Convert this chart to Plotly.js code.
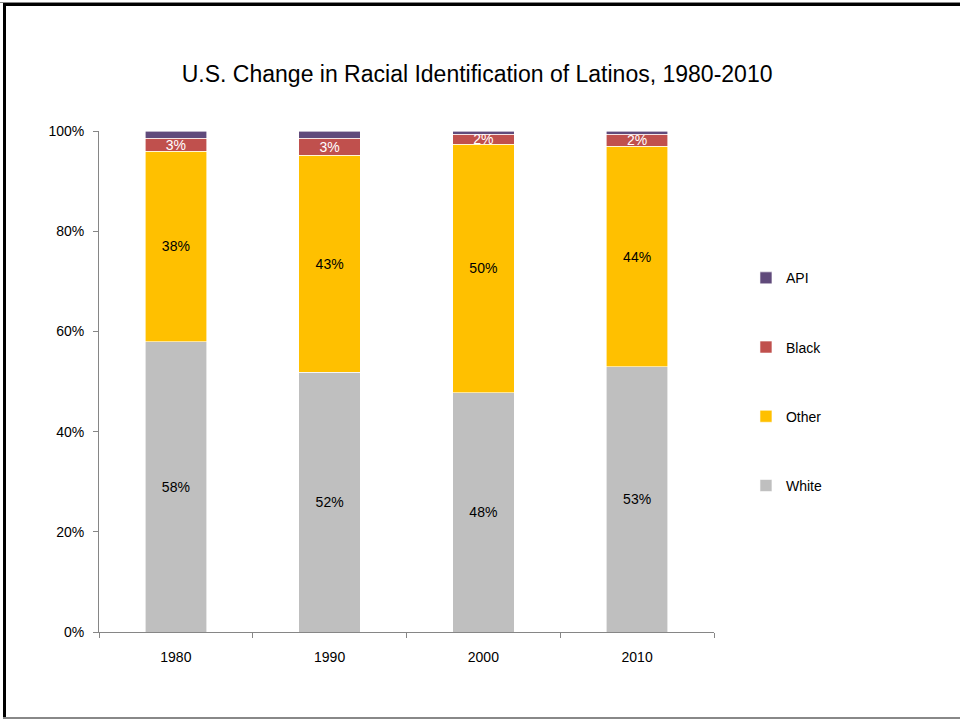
<!DOCTYPE html>
<html>
<head>
<meta charset="utf-8">
<script src="https://cdn.plot.ly/plotly-3.0.1.min.js"></script>
<style>
  html, body { margin: 0; padding: 0; background: #fff; }
  #wrap { position: relative; width: 960px; height: 721px; overflow: hidden; }
  #chart { width: 960px; height: 721px; }
  .b { position: absolute; }
</style>
</head>
<body>
<div id="wrap">
  <div id="chart"></div>
  <div class="b" style="left:0;top:2px;width:960px;height:1px;background:#888;"></div>
  <div class="b" style="left:3px;top:3px;width:957px;height:3px;background:#000;"></div>
  <div class="b" style="left:3px;top:3px;width:3px;height:716px;background:#000;"></div>
  <div class="b" style="left:3px;top:717px;width:957px;height:2px;background:#888;"></div>
</div>
<script>
const years = ['1980', '1990', '2000', '2010'];
const white = [57.9, 51.8, 47.8, 52.9];
const other = [38.1, 43.4, 49.6, 44.1];
const black = [2.6, 3.4, 2.0, 2.4];
const api   = [1.4, 1.4, 0.6, 0.6];
const yTickVals = [0, 20, 40, 60, 80, 100];
const yTickText = ['0%', '20%', '40%', '60%', '80%', '100%'];

const font = "'Liberation Sans', Arial, sans-serif";

function seg(name, vals, color, txtColor, showText, rank) {
  return {
    type: 'bar', name: name, x: years, y: vals,
    marker: { color: color, line: { color: '#ffffff', width: 0.6 } },
    texttemplate: showText ? '%{y:.0f}%' : '',
    textposition: showText ? 'inside' : 'none',
    insidetextanchor: 'middle',
    textangle: 0,
    textfont: { family: font, size: 14, color: txtColor },
    hoverinfo: 'name+y',
    legendgroup: name,
    legendrank: rank
  };
}

const data = [
  seg('White', white, '#BFBFBF', '#000000', true, 4),
  seg('Other', other, '#FFC000', '#000000', true, 3),
  seg('Black', black, '#C0504D', '#FFFFFF', true, 2),
  seg('API', api, '#604A7B', '#FFFFFF', false, 1)
];

const layout = {
  width: 960, height: 721,
  margin: { l: 99, r: 246, t: 131, b: 89 },
  paper_bgcolor: '#ffffff', plot_bgcolor: '#ffffff',
  barmode: 'stack', bargap: 0.6,
  uniformtext: { minsize: 14, mode: 'show' },
  title: {
    text: 'U.S. Change in Racial Identification of Latinos, 1980-2010',
    font: { family: "'Liberation Sans', Arial, sans-serif", size: 23, color: '#000' },
    x: 0.497, xanchor: 'center', y: 0.898, yanchor: 'middle'
  },
  xaxis: {
    type: 'category', tickson: 'boundaries',
    showline: true, linecolor: '#868686', linewidth: 1,
    ticks: 'outside', ticklen: 5, tickcolor: '#868686',
    ticklabelstandoff: 12,
    tickfont: { family: font, size: 14, color: '#000' },
    showgrid: false, zeroline: false, fixedrange: true
  },
  yaxis: {
    range: [0, 100], tickmode: 'array', tickvals: yTickVals, ticktext: yTickText,
    showline: true, linecolor: '#868686', linewidth: 1,
    ticks: 'outside', ticklen: 5, tickcolor: '#868686',
    ticklabelstandoff: 6,
    tickfont: { family: font, size: 14, color: '#000' },
    showgrid: false, zeroline: false, fixedrange: true
  },
  showlegend: true,
  legend: {
    x: 1.052, xanchor: 'left', y: 0.738, yanchor: 'top',
    traceorder: 'grouped', tracegroupgap: 48,
    font: { family: font, size: 14, color: '#000' },
    itemwidth: 30, bgcolor: 'rgba(0,0,0,0)'
  }
};

Plotly.newPlot('chart', data, layout, { displayModeBar: false, staticPlot: true });
</script>
</body>
</html>
